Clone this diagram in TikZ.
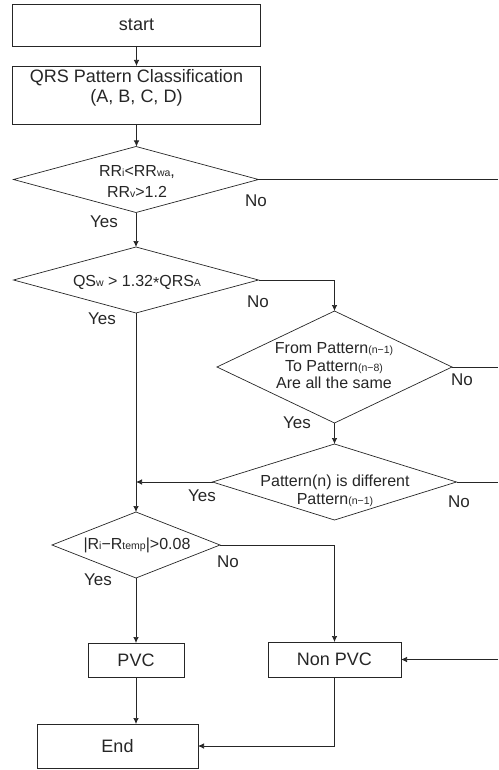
\documentclass[tikz,border=0pt]{standalone}
\usepackage{fontspec}
\setmainfont{Liberation Sans}
\usetikzlibrary{shapes.geometric,arrows.meta}
\newcommand{\sbs}[1]{{\fontsize{10.5}{10.5}\selectfont #1}}
\begin{document}
\begin{tikzpicture}[x=1pt,y=-1pt,
  line width=0.7pt, draw=black!85,
  box/.style={draw=black!85, rectangle, inner sep=0pt, outer sep=0pt},
  dia/.style={draw=black!85, diamond, inner sep=0pt, outer sep=0pt},
  btxt/.style={font=\fontsize{18}{20.5}\selectfont, text=black!85, align=center, inner sep=0pt},
  dtxt/.style={font=\fontsize{16}{18}\selectfont, text=black!85, align=center, inner sep=0pt},
  lbl/.style={font=\fontsize{17}{19}\selectfont, text=black!85, inner sep=0pt},
  arr/.style={-{Latex[length=6pt,width=5.5pt]}},
]
\useasboundingbox (0,0) rectangle (498,770);

% boxes
\node[box, minimum width=248, minimum height=42] (start) at (136.5,25) {};
\node[btxt] (startt) at (136.5,25) {start};
\node[box, minimum width=248, minimum height=58] (qrs) at (136.5,95) {};
\node[btxt] (qrst) at (136.5,88) {QRS Pattern Classification\\(A, B, C, D)};

% diamonds
\node[dia, minimum width=245, minimum height=66] (d1) at (136,179.5) {};
\node[dtxt, font=\fontsize{16}{21}\selectfont] (d1t) at (137,181) {RR\sbs{i}<RR\sbs{wa},\\RR\sbs{v}>1.2};
\node[dia, minimum width=245, minimum height=66] (d2) at (136,280) {};
\node[dtxt] (d2t) at (137,282) {QS\sbs{w} > 1.32\raisebox{-2pt}{*}QRS\sbs{A}};
\node[dia, minimum width=235, minimum height=112] (d3) at (334.5,367) {};
\node[dtxt, font=\fontsize{16}{17.5}\selectfont] (d3t) at (334,366) {From Pattern\sbs{(n−1)}\\To Pattern\sbs{(n−8)}\\Are all the same};
\node[dia, minimum width=244, minimum height=76] (d4) at (334.5,482) {};
\node[dtxt] (d4t) at (335,491) {Pattern(n) is different\\Pattern\sbs{(n−1)}};
\node[dia, minimum width=168, minimum height=66] (d5) at (136,545) {};
\node[dtxt] (d5t) at (137,545) {|R\sbs{i}−R\sbs{temp}|>0.08};

% result boxes
\node[box, minimum width=96, minimum height=34] (pvc) at (136,660) {};
\node[btxt] (pvct) at (136,660) {PVC};
\node[box, minimum width=133, minimum height=35] (npvc) at (334.5,659.5) {};
\node[btxt] (npvct) at (334.5,659.5) {Non PVC};
\node[box, minimum width=161, minimum height=44] (end) at (117.5,746) {};
\node[btxt] (endt) at (117.5,746) {End};

% free ends at the right edge
\coordinate (r1) at (498,179.5);
\coordinate (r3) at (498,367);
\coordinate (r4) at (498,482);
\coordinate (r6) at (498,659.5);
\coordinate (j4) at (136,482);

% connectors
\draw[arr] (start.south) -- (qrs.north);
\draw[arr] (qrs.south) -- (qrs.south |- d1.north);
\draw (d1.east) -- (r1);
\draw[arr] (d1.south) -- (d2.north);
\draw[arr] (d2.east) -| (d3.north);
\draw (d3.east) -- (r3);
\draw[arr] (d3.south) -- (d4.north);
\draw (d4.east) -- (r4);
\draw[arr] (d4.west) -- (j4);
\draw[arr] (d2.south) -- (d5.north);
\draw[arr] (d5.east) -| (npvc.north);
\draw[arr] (d5.south) -- (pvc.north);
\draw[arr] (r6) -- (npvc.east);
\draw[arr] (pvc.south) -- (pvc.south |- end.north);
\draw[arr] (npvc.south) |- (end.east);

% branch labels
\node[lbl] (n1) at (256,201) {No};
\node[lbl] (y1) at (104,222) {Yes};
\node[lbl] (n2) at (258,302) {No};
\node[lbl] (y2) at (102,319) {Yes};
\node[lbl] (n3) at (462,380) {No};
\node[lbl] (y3) at (297,423) {Yes};
\node[lbl] (y4) at (202,496) {Yes};
\node[lbl] (n4) at (459,502) {No};
\node[lbl] (n5) at (228,562) {No};
\node[lbl] (y5) at (98,580) {Yes};
\end{tikzpicture}
\end{document}
